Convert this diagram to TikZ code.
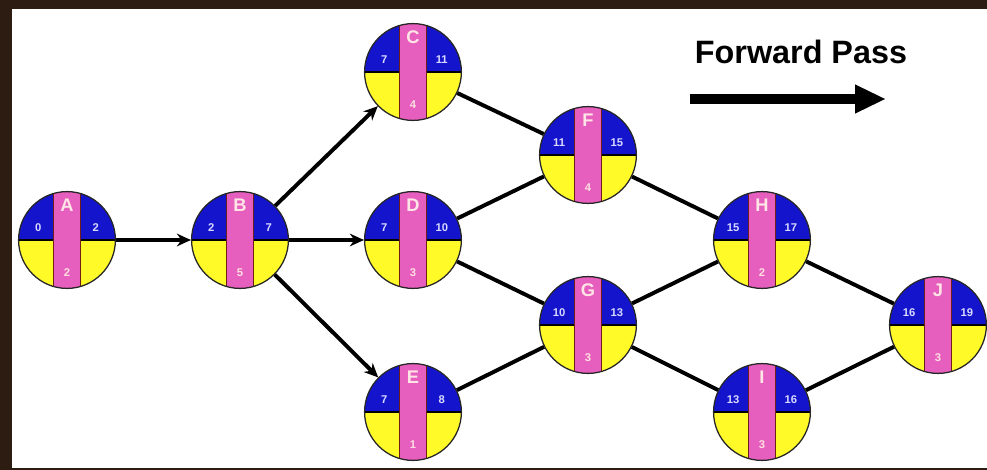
\documentclass[tikz,border=0pt]{standalone}
\usepackage{fontspec}
\setsansfont{Liberation Sans}
\usetikzlibrary{arrows.meta,calc}

\definecolor{pblue}{RGB}{20,20,205}
\definecolor{pyellow}{RGB}{255,250,40}
\definecolor{ppink}{RGB}{230,95,190}
\definecolor{pstrip}{RGB}{110,30,20}
\definecolor{frame}{RGB}{45,28,18}

% one activity circle: name, position, letter, ES, EF, duration
\newcommand{\pertnode}[6]{%
  \node[pert] (#1) at (#2) {};
  \node[plet] (#1-l) at ([yshift=0.875cm]#1.center) {#3};
  \node[pnum] (#1-es) at ([shift={(-0.72cm,0.3cm)}]#1.center) {#4};
  \node[pnum] (#1-ef) at ([shift={(0.72cm,0.3cm)}]#1.center) {#5};
  \node[pdur] (#1-d) at ([yshift=-0.82cm]#1.center) {#6};
}

\begin{document}
\begin{tikzpicture}[x=0.025cm,y=-0.025cm,
    >={Stealth[length=10pt,width=9pt]},
    pert/.style={circle,draw=black!85,line width=0.9pt,minimum size=2.42cm,inner sep=0pt,
      path picture={
        \fill[pblue] (path picture bounding box.north west) rectangle (path picture bounding box.east);
        \fill[pyellow] (path picture bounding box.west) rectangle (path picture bounding box.south east);
        \draw[black,line width=1pt] (path picture bounding box.west) -- (path picture bounding box.east);
        \fill[ppink,draw=pstrip,line width=1.2pt]
          ([xshift=-0.34cm]path picture bounding box.north) rectangle ([xshift=0.34cm]path picture bounding box.south);
      }},
    plet/.style={font=\sffamily\bfseries\fontsize{13}{13}\selectfont,text=pink!40,inner sep=0pt},
    pnum/.style={font=\sffamily\bfseries\fontsize{8}{8}\selectfont,text=white!85!blue,inner sep=0pt},
    pdur/.style={font=\sffamily\bfseries\fontsize{8}{8}\selectfont,text=pink!50,inner sep=0pt},
    link/.style={line width=2.8pt,black},
    title/.style={font=\sffamily\bfseries\fontsize{23}{23}\selectfont,inner sep=0pt}]
  \fill[frame] (0,0) rectangle (987,470);
  \fill[white] (12,9) rectangle (987,468);

  \pertnode{A}{67,240}{A}{0}{2}{2}
  \pertnode{B}{240,240}{B}{2}{7}{5}
  \pertnode{C}{413,72}{C}{7}{11}{4}
  \pertnode{D}{413,240}{D}{7}{10}{3}
  \pertnode{E}{413,412}{E}{7}{8}{1}
  \pertnode{F}{588,155}{F}{11}{15}{4}
  \pertnode{G}{588,325}{G}{10}{13}{3}
  \pertnode{H}{762,240}{H}{15}{17}{2}
  \pertnode{I}{762,412}{I}{13}{16}{3}
  \pertnode{J}{938,325}{J}{16}{19}{3}

  \draw[link,->] (A) -- (B);
  \draw[link,->] (B) -- (C);
  \draw[link,->] (B) -- (D);
  \draw[link,->] (B) -- (E);
  \draw[link] (C) -- (F);
  \draw[link] (D) -- (F);
  \draw[link] (D) -- (G);
  \draw[link] (E) -- (G);
  \draw[link] (F) -- (H);
  \draw[link] (G) -- (H);
  \draw[link] (G) -- (I);
  \draw[link] (H) -- (J);
  \draw[link] (I) -- (J);

  % forward pass legend
  \node[title] (fp) at (801,52) {Forward Pass};
  \coordinate (fps) at (690,99);
  \coordinate (fpe) at (886,99);
  \draw[line width=7pt,-{Triangle[length=22pt,width=19pt]}] (fps) -- (fpe);
\end{tikzpicture}
\end{document}
